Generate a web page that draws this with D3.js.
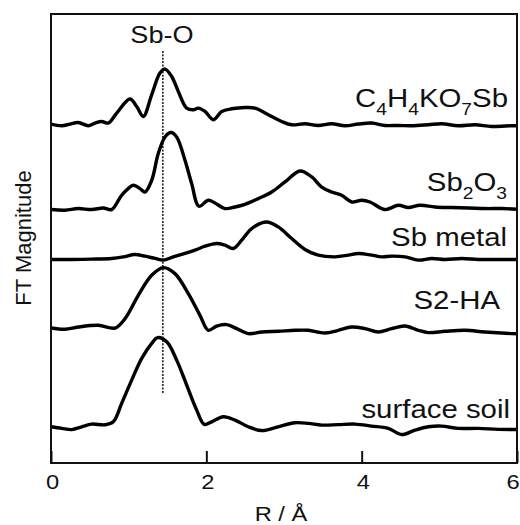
<!DOCTYPE html>
<html>
<head>
<meta charset="utf-8">
<script src="https://cdn.jsdelivr.net/npm/d3@7/dist/d3.min.js"></script>
<style>
  html, body { margin: 0; padding: 0; background: #fff; }
  svg { display: block; }
  text { font-family: "Liberation Sans", Arial, Helvetica, sans-serif; fill: #111; }
</style>
</head>
<body>
<svg id="chart" width="520" height="525"></svg>
<script>
// ---------- data (R in Å, FT magnitude relative to each spectrum's baseline) ----------
const xTicks = [0, 2, 4, 6];
const sampleNames = ["C4H4KO7Sb", "Sb2O3", "Sb metal", "S2-HA", "surface soil"];
const sampleOffsets = [33.9, 25.4, 20.4, 13.4, 3.5];
const sbOPosition = 1.44;

const ftC4H4KO7Sb = [
  [0,0.07],[0.138,-0.1],[0.245,0.07],[0.351,0.23],[0.48,-0.1],[0.567,0.17],[0.653,0.33],[0.738,0.17],
  [0.846,1.17],[1.017,2.58],[1.103,1.83],[1.188,0.83],[1.296,3.0],[1.403,5.18],[1.468,5.58],[1.554,4.84],
  [1.639,3.34],[1.747,1.67],[1.832,1.5],[1.897,1.67],[1.983,1.33],[2.09,0.5],[2.198,1.33],[2.327,1.6],
  [2.498,1.73],[2.627,1.67],[2.798,1.0],[2.97,0.33],[3.099,0],[3.27,0.1],[3.441,-0.07],[3.614,0.1],
  [3.785,-0.1],[3.956,0.07],[4.129,0.17],[4.3,-0.07],[4.472,-0.07],[4.644,-0.1],[4.858,0],[5.03,0.1],
  [5.244,-0.1],[5.459,0],[5.674,-0.17],[5.932,-0.1],[6.0,-0.1]
];
const ftSb2O3 = [
  [0,0],[0.18,-0.07],[0.351,0.1],[0.524,0],[0.673,0.16],[0.781,0],[0.91,1.43],[1.06,2.44],[1.146,2.1],
  [1.21,1.76],[1.297,2.94],[1.381,5.61],[1.468,7.28],[1.545,7.72],[1.618,7.28],[1.725,4.94],[1.811,2.61],
  [1.905,0.33],[2.025,0.93],[2.111,0.66],[2.24,0.1],[2.369,0.26],[2.498,0.53],[2.669,1.1],[2.842,1.76],
  [3.013,2.77],[3.206,3.87],[3.357,3.27],[3.485,2.26],[3.614,1.76],[3.743,1.43],[3.872,0.76],[4.0,0.93],
  [4.107,0.76],[4.3,0],[4.472,0.43],[4.6,0.2],[4.751,0.43],[4.944,0.26],[5.159,0.2],[5.373,0.16],
  [5.588,0.1],[5.803,0.1],[6.0,0.03]
];
const ftSbMetal = [
  [0,0],[0.267,0],[0.524,0.03],[0.781,0.1],[0.931,0.26],[1.081,0.5],[1.21,0.33],[1.339,0.1],[1.446,-0.07],
  [1.575,0.26],[1.725,0.6],[1.854,0.93],[1.983,1.33],[2.133,1.6],[2.24,1.43],[2.347,1.1],[2.455,1.93],
  [2.584,3.1],[2.777,3.76],[2.926,3.26],[3.099,2.1],[3.27,1.0],[3.441,0.43],[3.656,0.26],[3.828,0.43],
  [3.956,0.6],[4.129,0.43],[4.258,0.26],[4.386,0.33],[4.558,0.26],[4.729,-0.07],[4.901,0.1],[5.073,0],
  [5.288,0.1],[5.502,0],[5.717,0],[6.0,0]
];
const ftS2HA = [
  [0,0.13],[0.18,0],[0.351,0.23],[0.609,0.4],[0.824,0.13],[0.953,1.07],[1.124,3.41],[1.296,5.41],
  [1.446,6.18],[1.596,5.58],[1.768,3.58],[1.918,1.4],[2.025,-0.1],[2.133,0.33],[2.262,0.47],[2.391,0.07],
  [2.54,-0.43],[2.713,-0.27],[2.926,-0.2],[3.141,-0.1],[3.313,-0.1],[3.528,-0.37],[3.699,-0.1],[3.871,0.23],
  [4.043,0.07],[4.214,-0.27],[4.386,0.07],[4.558,0.33],[4.729,-0.1],[4.858,-0.33],[5.073,-0.2],[5.33,-0.1],
  [5.588,-0.27],[5.932,-0.43],[6.0,-0.45]
];
const ftSurfaceSoil = [
  [0,0.13],[0.138,-0.03],[0.267,-0.15],[0.395,0.13],[0.524,0.4],[0.695,0.33],[0.802,0.63],[0.91,2.48],
  [1.039,4.81],[1.168,6.99],[1.297,8.49],[1.371,9.07],[1.49,8.65],[1.618,6.81],[1.747,4.31],[1.876,1.8],
  [1.974,0.37],[2.069,0.63],[2.218,1.13],[2.369,0.8],[2.54,0.13],[2.713,-0.25],[2.926,0.13],[3.141,0.53],
  [3.313,0.47],[3.485,0.3],[3.699,0.35],[3.914,0.4],[4.129,0.2],[4.343,-0.03],[4.515,-0.65],[4.687,-0.2],
  [4.858,0.13],[5.03,0.2],[5.244,-0.03],[5.502,-0.03],[5.759,-0.13],[6.0,-0.15]
];
const spectra = [ftC4H4KO7Sb, ftSb2O3, ftSbMetal, ftS2HA, ftSurfaceSoil];

// ---------- drawing ----------
(function draw() {
const svg = d3.select("#chart");
const mLeft = 51, mRight = 517, mTop = 14, mBottom = 463;
const stretch = 1.13;

const x = d3.scaleLinear().domain([0, 6]).range([mLeft, mRight]);
const y = d3.scaleLinear().domain([0, 45]).range([mBottom, mTop]);

svg.append("defs").append("clipPath").attr("id", "plotclip")
  .append("rect").attr("x", mLeft).attr("y", mTop).attr("width", mRight - mLeft).attr("height", mBottom - mTop);

// dotted Sb-O reference line
svg.append("line")
  .attr("x1", x(sbOPosition)).attr("x2", x(sbOPosition))
  .attr("y1", y(41.3)).attr("y2", y(7.0))
  .attr("stroke", "#222").attr("stroke-width", 1.6)
  .attr("stroke-dasharray", "2,1.4");

// spectra
const line = d3.line()
  .x(d => x(d[0]))
  .curve(d3.curveCatmullRom.alpha(0.5));

const g = svg.append("g").attr("clip-path", "url(#plotclip)");
spectra.forEach((data, i) => {
  const off = sampleOffsets[i];
  g.append("path")
    .attr("d", line.y(d => y(d[1] + off))(data))
    .attr("fill", "none")
    .attr("stroke", "#000")
    .attr("stroke-width", 3.4)
    .attr("stroke-linejoin", "round")
    .attr("stroke-linecap", "round");
});

// frame
svg.append("rect")
  .attr("x", mLeft).attr("y", mTop)
  .attr("width", mRight - mLeft).attr("height", mBottom - mTop)
  .attr("fill", "none").attr("stroke", "#111").attr("stroke-width", 2);

// x axis (ticks inward)
const xAxis = d3.axisBottom(x).tickValues(xTicks).tickFormat(d3.format("d"))
  .tickSizeInner(-12).tickSizeOuter(0).tickPadding(0);
const ax = svg.append("g").attr("transform", `translate(0,${mBottom})`).call(xAxis)
  .attr("font-size", 21).attr("font-family", "'Liberation Sans', Arial, sans-serif");
ax.select(".domain").remove();
ax.selectAll(".tick line").attr("stroke", "#111").attr("stroke-width", 2);
ax.selectAll(".tick text")
  .attr("y", 0).attr("dy", null)
  .attr("x", d => d === 6 ? 2 : 1)
  .attr("text-anchor", d => d === 6 ? "end" : "middle")
  .attr("transform", `translate(0,26) scale(${stretch},1)`)
  .style("font-size", "21px")
  .attr("fill", "#111");

// axis titles
svg.append("text")
  .attr("transform", `translate(281,521) scale(${stretch},1)`)
  .attr("text-anchor", "middle")
  .style("font-size", "21px")
  .text("R / Å");

svg.append("text")
  .attr("transform", `translate(31,238) rotate(-90)`)
  .attr("text-anchor", "middle")
  .style("font-size", "22px")
  .text("FT Magnitude");

// Sb-O label
svg.append("text")
  .attr("transform", `translate(162,43) scale(${stretch},1)`)
  .attr("text-anchor", "middle")
  .style("font-size", "24px")
  .text("Sb-O");

// sample labels (digits in formulas as subscripts)
const labelPos = [[508,107],[507,191],[507,246],[500,309],[510,418]];
const subscriptFormula = [true, true, false, false, false];
sampleNames.forEach((name, i) => {
  const t = svg.append("text")
    .attr("transform", `translate(${labelPos[i][0]},${labelPos[i][1]}) scale(${stretch},1)`)
    .attr("text-anchor", "end")
    .style("font-size", "26px");
  if (subscriptFormula[i]) {
    const parts = name.match(/[0-9]+|[^0-9]+/g);
    let shifted = false;
    parts.forEach(p => {
      const isNum = /^[0-9]+$/.test(p);
      const ts = t.append("tspan").text(p);
      if (isNum) {
        ts.style("font-size", "17px").attr("dy", shifted ? 0 : 8);
        shifted = true;
      } else {
        ts.attr("dy", shifted ? -8 : 0);
        shifted = false;
      }
    });
  } else {
    t.text(name);
  }
});
})();
</script>
</body>
</html>
